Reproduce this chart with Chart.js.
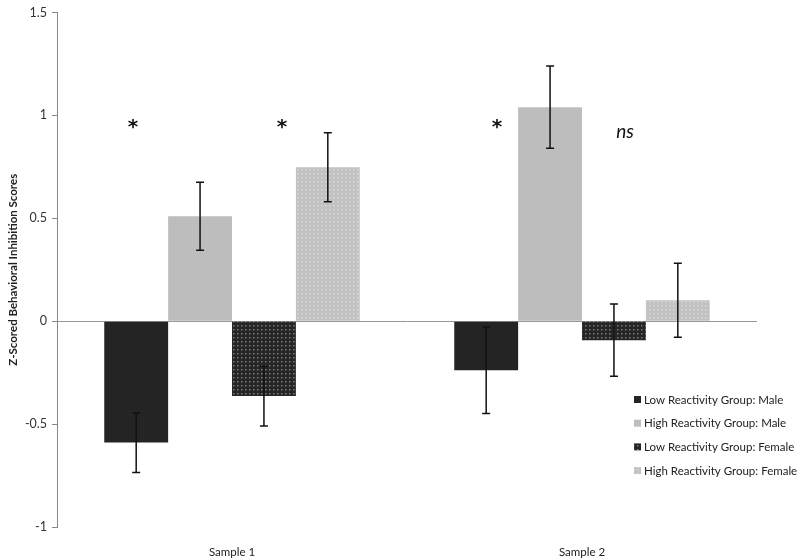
<!DOCTYPE html>
<html><head><meta charset="utf-8">
<script src="https://cdn.jsdelivr.net/npm/chart.js@4"></script>
<style>html,body{margin:0;padding:0;background:#fff}#w{width:800px;height:560px}</style>
</head><body><div id="w"><canvas id="c" width="800" height="560"></canvas></div>
<script>
const categories = ["Sample 1", "Sample 2"];
const seriesNames = ["Low Reactivity Group: Male", "High Reactivity Group: Male", "Low Reactivity Group: Female", "High Reactivity Group: Female"];
const lowMale = [-0.59, -0.238];
const highMale = [0.51, 1.04];
const lowFemale = [-0.364, -0.092];
const highFemale = [0.748, 0.102];
const lowMaleErr = [0.145, 0.21];
const highMaleErr = [0.165, 0.2];
const lowFemaleErr = [0.145, 0.175];
const highFemaleErr = [0.168, 0.18];
const annotations = [
  {cat: 0, text: "*", dx: -99, y: 0.94},
  {cat: 0, text: "*", dx: 50, y: 0.94},
  {cat: 1, text: "*", dx: -85, y: 0.94},
  {cat: 1, text: "ns", dx: 43, y: 0.92, italic: true}
];

function dotPattern(bg, dot) {
  const p = document.createElement('canvas');
  p.width = 4; p.height = 4;
  const x = p.getContext('2d');
  x.fillStyle = bg; x.fillRect(0, 0, 4, 4);
  x.fillStyle = dot; x.fillRect(1, 1, 1.5, 1.5);
  return document.getElementById('c').getContext('2d').createPattern(p, 'repeat');
}
const fills = ["#242424", "#bdbdbd", dotPattern("#262626", "#7a7a7a"), dotPattern("#c2c2c2", "#dadada")];
const values = [lowMale, highMale, lowFemale, highFemale];
const errs = [lowMaleErr, highMaleErr, lowFemaleErr, highFemaleErr];

const errorBars = {
  id: 'errorBars',
  afterDatasetsDraw(chart) {
    const ctx = chart.ctx, y = chart.scales.y;
    ctx.save();
    ctx.strokeStyle = '#111'; ctx.lineWidth = 1.5;
    chart.data.datasets.forEach((ds, i) => {
      const meta = chart.getDatasetMeta(i);
      meta.data.forEach((bar, j) => {
        const v = ds.data[j], e = errs[i][j];
        const y1 = y.getPixelForValue(v + e), y2 = y.getPixelForValue(v - e);
        const x = bar.x;
        ctx.beginPath();
        ctx.moveTo(x, y1); ctx.lineTo(x, y2);
        ctx.moveTo(x - 4, y1); ctx.lineTo(x + 4, y1);
        ctx.moveTo(x - 4, y2); ctx.lineTo(x + 4, y2);
        ctx.stroke();
      });
    });
    ctx.fillStyle = '#111';
    ctx.textAlign = 'center'; ctx.textBaseline = 'middle';
    annotations.forEach(a => {
      ctx.font = a.italic ? 'italic 19px Lato, "Open Sans", sans-serif' : 'bold 20px "DejaVu Sans", sans-serif';
      const px = chart.scales.x.getPixelForValue(a.cat) + a.dx;
      ctx.fillText(a.text, px, y.getPixelForValue(a.y));
    });
    ctx.font = '11.5px Lato, "Open Sans", sans-serif';
    ctx.textAlign = 'left';
    seriesNames.forEach((n, i) => {
      const ly = 400 + i * 23.7;
      ctx.fillStyle = fills[i];
      ctx.fillRect(634, ly - 4, 7, 7);
      ctx.fillStyle = '#222';
      ctx.fillText(n, 644, ly);
    });
    ctx.restore();
  }
};

new Chart(document.getElementById('c'), {
  type: 'bar',
  data: {
    labels: categories,
    datasets: seriesNames.map((n, i) => ({
      label: n, data: values[i], backgroundColor: fills[i],
      borderWidth: 0, barPercentage: 1.0, categoryPercentage: 0.73
    }))
  },
  plugins: [errorBars],
  options: {
    responsive: false, animation: false,
    layout: {padding: {top: 12, right: 43, left: 6, bottom: 0}},
    plugins: {legend: {display: false}, tooltip: {enabled: false}},
    scales: {
      x: {
        grid: {display: false}, border: {display: false},
        ticks: {color: '#222', font: {family: 'Lato, "Open Sans", sans-serif', size: 11.5}, padding: 10},
        afterFit(s) { s.height = 33; }
      },
      y: {
        min: -1, max: 1.5,
        ticks: {stepSize: 0.5, color: '#333', font: {family: 'Lato, "Open Sans", sans-serif', size: 12.5}, padding: 5,
          callback: v => String(v)},
        grid: {
          color: c => (c.tick && c.tick.value === 0) ? '#999' : 'rgba(0,0,0,0)',
          tickColor: '#888', tickLength: 5, lineWidth: 1
        },
        border: {color: '#888'},
        title: {display: true, text: 'Z-Scored Behavioral Inhibition Scores', color: '#222',
          font: {family: 'Lato, "Open Sans", sans-serif', size: 11.5, weight: 'bold'}, padding: 0},
        afterFit(s) { s.width = 51; }
      }
    }
  }
});
</script></body></html>
